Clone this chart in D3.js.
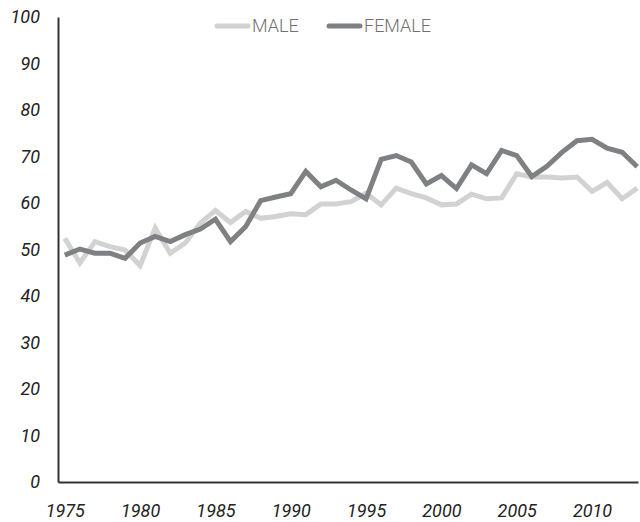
<!DOCTYPE html>
<html>
<head>
<meta charset="utf-8">
<script src="https://cdn.jsdelivr.net/npm/d3@7"></script>
<style>
  html, body { margin: 0; padding: 0; background: #fff; }
  svg { display: block; }
  .tick text { font-family: Roboto, sans-serif; font-style: italic; font-size: 18px; fill: #222; }
  .legend text { font-family: Roboto, sans-serif; font-weight: 300; font-size: 18px; fill: #707070; }
</style>
</head>
<body>
<svg id="chart" width="640" height="522"></svg>
<script>
// data
var years = d3.range(1975, 2014);
var seriesNames = ['MALE', 'FEMALE'];
var male = [52.4, 47.1, 51.7, 50.6, 49.9, 46.5, 54.6, 49.2, 51.4, 55.7,
            58.4, 55.8, 58.2, 56.7, 57.1, 57.7, 57.5, 59.8, 59.8, 60.3,
            62.1, 59.6, 63.2, 62.0, 61.1, 59.6, 59.8, 61.9, 60.9, 61.1,
            66.3, 65.6, 65.6, 65.4, 65.6, 62.5, 64.4, 60.9, 63.2];
var female = [48.8, 50.1, 49.2, 49.2, 48.1, 51.4, 52.8, 51.7, 53.2, 54.4,
              56.5, 51.7, 54.9, 60.5, 61.3, 62.0, 66.8, 63.5, 64.9, 62.8,
              60.9, 69.4, 70.2, 68.8, 64.1, 65.9, 63.1, 68.2, 66.3, 71.3,
              70.2, 65.7, 67.9, 70.9, 73.4, 73.7, 71.8, 70.9, 67.8];
var xTicks = [1975, 1980, 1985, 1990, 1995, 2000, 2005, 2010];
var yTicks = [0, 10, 20, 30, 40, 50, 60, 70, 80, 90, 100];
var colors = ['#d2d2d3', '#7f8083'];

(function(){
  var svg = d3.select('#chart'),
      x = d3.scaleLinear().domain([1974.55, 2013.05]).range([58, 638]),
      y = d3.scaleLinear().domain([0, 100]).range([482, 17]);

  var xAxis = svg.append('g')
    .attr('transform', 'translate(0,' + y(0) + ')')
    .call(d3.axisBottom(x).tickValues(xTicks).tickFormat(function(d){ return d; })
      .tickSize(0).tickSizeOuter(0).tickPadding(22));
  var yAxis = svg.append('g')
    .attr('transform', 'translate(' + x.range()[0] + ',0)')
    .call(d3.axisLeft(y).tickValues(yTicks).tickSize(0).tickSizeOuter(0).tickPadding(18));
  [xAxis, yAxis].forEach(function(g){
    g.select('.domain').attr('stroke', '#333').attr('stroke-width', 2);
  });

  var line = d3.line()
    .x(function(d, i){ return x(years[i]); })
    .y(function(d){ return y(d); });

  [male, female].forEach(function(vals, i){
    svg.append('path')
      .datum(vals)
      .attr('fill', 'none')
      .attr('stroke', colors[i])
      .attr('stroke-width', 5)
      .attr('stroke-linejoin', 'miter')
      .attr('d', line);
  });

  // legend
  var legendX = [215, 327];
  var lg = svg.append('g').attr('class', 'legend');
  seriesNames.forEach(function(name, i){
    var g = lg.append('g').attr('transform', 'translate(' + legendX[i] + ',26)');
    g.append('line')
      .attr('x1', 2).attr('x2', 33).attr('y1', 0).attr('y2', 0)
      .attr('stroke', colors[i]).attr('stroke-width', 5)
      .attr('stroke-linecap', 'round');
    g.append('text')
      .attr('x', 37).attr('dy', '0.35em')
      .text(name);
  });
})();
</script>
</body>
</html>
